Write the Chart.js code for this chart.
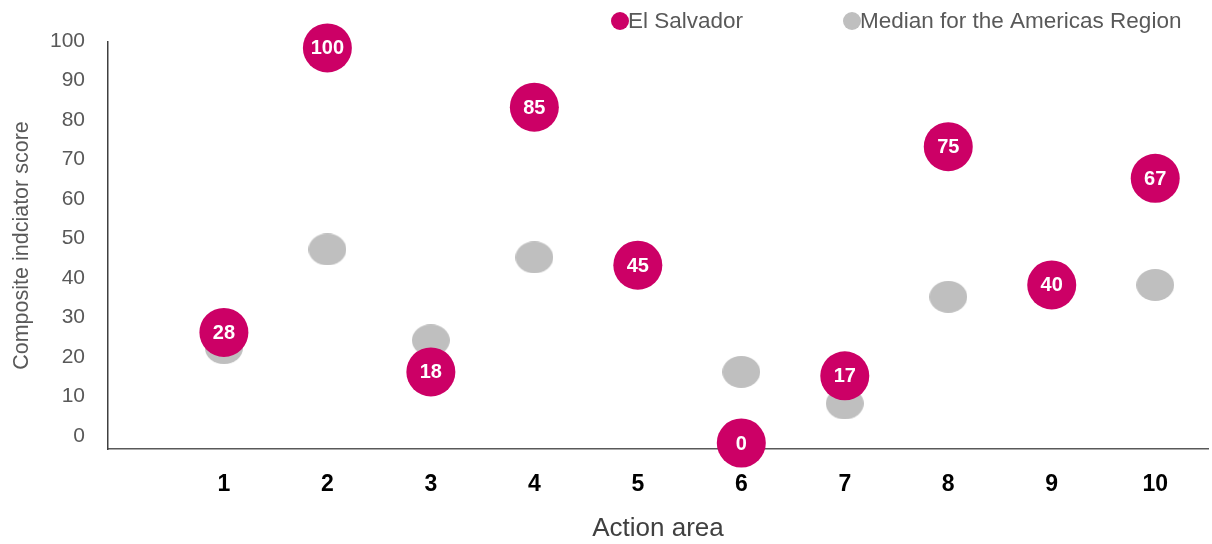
<!DOCTYPE html>
<html>
<head>
<meta charset="utf-8">
<script src="https://cdn.jsdelivr.net/npm/chart.js@4.4.1/dist/chart.umd.min.js"></script>
<style>
  html, body { margin: 0; padding: 0; background: #fff; }
  #wrap { width: 1212px; height: 544px; position: relative; }
</style>
</head>
<body>
<div id="wrap"><canvas id="chart"></canvas></div>
<script>
// Datos del grafico
const actionAreas = [1, 2, 3, 4, 5, 6, 7, 8, 9, 10];
const elSalvador = [28, 100, 18, 85, 45, 0, 17, 75, 40, 67];
const americasMedian = [24, 49, 26, 47, null, 18, 10, 37, 39, 40];
const yTickValues = [0, 10, 20, 30, 40, 50, 60, 70, 80, 90, 100];
const seriesNames = ['El Salvador', 'Median for the Americas Region'];

const MAGENTA = '#CC0066';
const GREY = '#BFBFBF';

// punto elipse gris (como en Excel)
function ellipseMarker(w, h, color) {
  const c = document.createElement('canvas');
  c.width = w; c.height = h;
  const g = c.getContext('2d');
  g.fillStyle = color;
  g.beginPath();
  g.ellipse(w / 2, h / 2, w / 2, h / 2, 0, 0, Math.PI * 2);
  g.fill();
  return c;
}

function toPoints(values) {
  return actionAreas.map((x, i) => ({ x: x, y: values[i] }));
}

// Leyenda dibujada a mano arriba a la derecha
const legendPlugin = {
  id: 'topLegend',
  afterDraw(chart) {
    const ctx = chart.ctx;
    const slots = [620, 852];
    ctx.save();
    ctx.font = '22.5px "Liberation Sans", Arial, sans-serif';
    ctx.textBaseline = 'middle';
    ctx.textAlign = 'left';
    chart.data.datasets.forEach((ds, i) => {
      const cx = slots[i];
      ctx.fillStyle = ds.backgroundColor;
      ctx.beginPath();
      ctx.arc(cx, 21, 9, 0, Math.PI * 2);
      ctx.fill();
      ctx.fillStyle = '#595959';
      ctx.fillText(ds.label, cx + 8, 22);
    });
    ctx.restore();
  }
};

// Etiquetas blancas dentro de los circulos
const valueLabels = {
  id: 'valueLabels',
  afterDatasetsDraw(chart) {
    const ctx = chart.ctx;
    const meta = chart.getDatasetMeta(0);
    ctx.save();
    ctx.font = 'bold 20px "Liberation Sans", Arial, sans-serif';
    ctx.fillStyle = '#ffffff';
    ctx.textAlign = 'center';
    ctx.textBaseline = 'middle';
    meta.data.forEach((pt, i) => {
      if (elSalvador[i] == null) return;
      ctx.fillText(String(elSalvador[i]), pt.x, pt.y + 1);
    });
    ctx.restore();
  }
};

new Chart(document.getElementById('chart'), {
  type: 'scatter',
  data: {
    datasets: [
      {
        label: seriesNames[0],
        data: toPoints(elSalvador),
        backgroundColor: MAGENTA,
        borderWidth: 0,
        pointRadius: 24.5,
        pointHoverRadius: 24.5,
        clip: false
      },
      {
        label: seriesNames[1],
        data: toPoints(americasMedian),
        backgroundColor: GREY,
        borderWidth: 0,
        pointStyle: ellipseMarker(38, 32, GREY),
        pointRadius: 16,
        clip: false
      }
    ]
  },
  options: {
    responsive: true,
    maintainAspectRatio: false,
    animation: false,
    layout: { autoPadding: false, padding: { top: 42, right: 4, left: 0, bottom: 0 } },
    plugins: {
      legend: { display: false },
      tooltip: { enabled: false }
    },
    scales: {
      x: {
        type: 'linear',
        min: -0.12,
        max: 10.51,
        grid: { display: false },
        border: { display: true, color: '#595959', width: 1.5 },
        afterBuildTicks: s => { s.ticks = actionAreas.map(v => ({ value: v })); },
        afterFit: s => { s.height = 95; s.paddingLeft = 0; s.paddingRight = 0; },
        ticks: {
          padding: 14,
          color: '#000000',
          font: { family: '"Liberation Sans", Arial, sans-serif', size: 23, weight: 'bold' },
          callback: v => String(v)
        },
        title: {
          display: true,
          text: 'Action area',
          color: '#404040',
          font: { family: '"Liberation Sans", Arial, sans-serif', size: 26 },
          padding: { top: 0, bottom: 0 }
        }
      },
      y: {
        min: -1.52,
        max: 101.5,
        grid: { display: false },
        border: { display: true, color: '#404040', width: 1.5 },
        afterBuildTicks: s => { s.ticks = yTickValues.map(v => ({ value: v })); },
        afterFit: s => { s.width = 108; s.paddingTop = 0; s.paddingBottom = 0; },
        ticks: {
          padding: 15,
          labelOffset: -7,
          color: '#595959',
          font: { family: '"Liberation Sans", Arial, sans-serif', size: 21 }
        },
        title: {
          display: true,
          text: 'Composite indciator score',
          color: '#595959',
          font: { family: '"Liberation Sans", Arial, sans-serif', size: 21.5 },
          padding: { top: 9, bottom: 0 }
        }
      }
    }
  },
  plugins: [legendPlugin, valueLabels]
});
</script>
</body>
</html>
